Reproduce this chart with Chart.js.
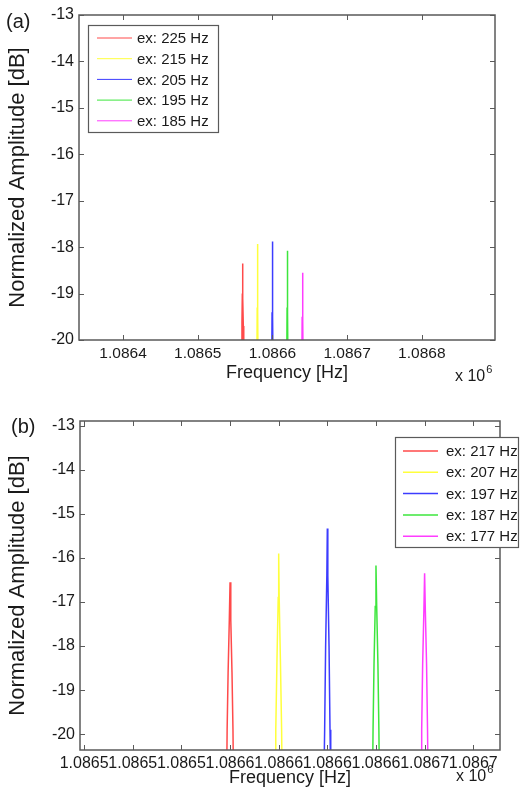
<!DOCTYPE html>
<html><head><meta charset="utf-8">
<script src="https://cdn.jsdelivr.net/npm/chart.js@4.4.0/dist/chart.umd.min.js"></script>
<style>
html,body{margin:0;padding:0;background:#fff;}
#wrap{position:relative;width:524px;height:795px;}
.c{position:absolute;left:0;width:524px;}
</style></head><body>
<div id="wrap">
<div class="c" style="top:0;height:395px"><canvas id="ca" width="524" height="395"></canvas></div>
<div class="c" style="top:395px;height:400px"><canvas id="cb" width="524" height="400"></canvas></div>
</div>
<script>
const FONT = '"Liberation Sans", Arial, Helvetica, sans-serif';
const COLORS = ['#ff4a4a', '#ffff3c', '#3c3cff', '#3ce63c', '#ff3cff'];

// ---------- Panel (a) ----------
const xTicksA = [1086400, 1086500, 1086600, 1086700, 1086800];
const xTickLabelsA = ['1.0864', '1.0865', '1.0866', '1.0867', '1.0868'];
const yTicks = [-20, -19, -18, -17, -16, -15, -14, -13];
const namesA = ['ex: 225 Hz', 'ex: 215 Hz', 'ex: 205 Hz', 'ex: 195 Hz', 'ex: 185 Hz'];

const freqA225 = [1086558.6, 1086559.2, 1086559.7, 1086560.0, 1086560.4, 1086561.0, 1086561.6];
const ampA225  = [-21.0, -19.6, -19.0, -18.35, -19.1, -19.7, -21.0];
const freqA215 = [1086579.0, 1086579.6, 1086580.0, 1086580.4, 1086581.0];
const ampA215  = [-21.0, -19.3, -17.93, -19.4, -21.0];
const freqA205 = [1086598.9, 1086599.5, 1086599.8, 1086600.0, 1086600.3, 1086600.6, 1086601.1];
const ampA205  = [-21.0, -19.4, -18.6, -17.88, -18.7, -19.5, -21.0];
const freqA195 = [1086619.0, 1086619.6, 1086620.0, 1086620.4, 1086621.0];
const ampA195  = [-21.0, -19.3, -18.08, -19.4, -21.0];
const freqA185 = [1086639.2, 1086639.8, 1086640.3, 1086640.8, 1086641.4];
const ampA185  = [-21.0, -19.5, -18.55, -19.6, -21.0];

// ---------- Panel (b) ----------
const xTicksB = [1086510, 1086530, 1086550, 1086570, 1086590, 1086610, 1086630, 1086650, 1086670];
const xTickLabelsB = ['1.0865', '1.0865', '1.0865', '1.0866', '1.0866', '1.0866', '1.0866', '1.0867', '1.0867'];
const namesB = ['ex: 217 Hz', 'ex: 207 Hz', 'ex: 197 Hz', 'ex: 187 Hz', 'ex: 177 Hz'];

const freqB217 = [1086568.6, 1086568.8, 1086569.2, 1086569.7, 1086570.0, 1086570.3, 1086570.8, 1086571.2, 1086571.4];
const ampB217  = [-21.0, -19.9, -18.6, -17.4, -16.55, -17.4, -18.6, -19.9, -21.0];
const freqB207 = [1086588.6, 1086588.8, 1086589.3, 1086589.8, 1086590.0, 1086590.2, 1086590.7, 1086591.2, 1086591.4];
const ampB207  = [-21.0, -19.9, -18.3, -16.9, -15.9, -16.9, -18.3, -19.9, -21.0];
const freqB197 = [1086608.6, 1086608.9, 1086609.3, 1086609.8, 1086610.0, 1086610.2, 1086610.7, 1086611.1, 1086611.4];
const ampB197  = [-21.0, -19.9, -18.0, -16.4, -15.33, -16.4, -18.0, -19.9, -21.0];
const freqB187 = [1086628.6, 1086628.8, 1086629.2, 1086629.7, 1086630.0, 1086630.3, 1086630.8, 1086631.2, 1086631.4];
const ampB187  = [-21.0, -19.9, -18.4, -17.1, -16.17, -17.1, -18.4, -19.9, -21.0];
const freqB177 = [1086648.6, 1086648.8, 1086649.2, 1086649.7, 1086650.0, 1086650.3, 1086650.8, 1086651.2, 1086651.4];
const ampB177  = [-21.0, -19.9, -18.4, -17.2, -16.35, -17.2, -18.4, -19.9, -21.0];

function makeDatasets(names, freqs, amps, lw) {
  return names.map((n, i) => ({
    label: n,
    data: freqs[i].map((f, j) => ({x: f, y: amps[i][j]})),
    borderColor: COLORS[i], backgroundColor: COLORS[i],
    borderWidth: lw, pointRadius: 0, showLine: true, tension: 0, clip: 0, fill: false
  }));
}

const framePlugin = {
  id: 'frame',
  afterDraw(chart, args, o) {
    const {ctx, chartArea: a, scales: {x, y}} = chart;
    ctx.save();
    const seg = (x1, y1, x2, y2) => { ctx.beginPath(); ctx.moveTo(x1, y1); ctx.lineTo(x2, y2); ctx.stroke(); };
    ctx.strokeStyle = '#5a5a5a';
    ctx.lineWidth = 1;
    const L = 5;
    x.ticks.forEach(t => { const p = Math.round(x.getPixelForValue(t.value)) + 0.5; seg(p, a.bottom, p, a.bottom - L); seg(p, a.top, p, a.top + L); });
    y.ticks.forEach(t => { const p = Math.round(y.getPixelForValue(t.value)) + 0.5; seg(a.left, p, a.left + L, p); seg(a.right, p, a.right - L, p); });
    ctx.lineWidth = 1.5;
    ctx.strokeRect(a.left, a.top, a.right - a.left, a.bottom - a.top);
    // panel label
    ctx.fillStyle = '#1a1a1a';
    ctx.textBaseline = 'middle'; ctx.textAlign = 'left';
    ctx.font = '20px ' + FONT;
    ctx.fillText(o.panel, o.panelX, o.panelY);
    // exponent
    ctx.font = '16px ' + FONT;
    ctx.fillText('x 10', o.expX, o.expY);
    const w = ctx.measureText('x 10').width;
    ctx.font = '11px ' + FONT;
    ctx.fillText('6', o.expX + w + 1, o.expY - 7);
    // legend
    const g = o.legend;
    ctx.fillStyle = '#fff';
    ctx.fillRect(g.x, g.y, g.w, g.h);
    ctx.strokeStyle = '#5a5a5a'; ctx.lineWidth = 1.2;
    ctx.strokeRect(g.x + 0.5, g.y + 0.5, g.w, g.h);
    chart.data.datasets.forEach((d, i) => {
      const ry = g.y + g.first + i * g.step;
      ctx.strokeStyle = d.borderColor; ctx.lineWidth = g.lw;
      seg(g.x + g.l1, ry, g.x + g.l2, ry);
      ctx.fillStyle = '#1a1a1a'; ctx.font = '15px ' + FONT;
      ctx.fillText(d.label, g.x + g.tx, ry + 1);
    });
    ctx.restore();
  }
};

function makeChart(id, c) {
  return new Chart(document.getElementById(id), {
    type: 'scatter',
    data: {datasets: c.datasets},
    options: {
      responsive: false, animation: false, devicePixelRatio: 1,
      layout: {padding: c.padding, autoPadding: false},
      plugins: {legend: {display: false}, tooltip: {enabled: false}, frame: c.frame},
      scales: {
        x: {
          type: 'linear', min: c.xMin, max: c.xMax,
          afterBuildTicks: s => { s.ticks = c.xTicks.map(v => ({value: v})); },
          afterFit: s => { s.height = c.xAxisHeight; },
          grid: {display: false, drawTicks: false}, border: {display: false},
          ticks: {autoSkip: false, maxRotation: 0, minRotation: 0, padding: c.xTickPad, color: '#1a1a1a',
                  font: {family: FONT, size: c.xTickSize}, callback: (v, i) => c.xLabels[i]},
          title: {display: true, text: 'Frequency [Hz]', color: '#1a1a1a',
                  font: {family: FONT, size: 18}, padding: {top: 0, bottom: c.xTitlePad}}
        },
        y: {
          type: 'linear', min: c.yMin, max: c.yMax,
          afterBuildTicks: s => { s.ticks = yTicks.map(v => ({value: v})); },
          afterFit: s => { s.width = c.yAxisWidth; },
          grid: {display: false, drawTicks: false}, border: {display: false},
          ticks: {padding: 5, color: '#1a1a1a', font: {family: FONT, size: 16}},
          title: {display: true, text: 'Normalized Amplitude [dB]', color: '#1a1a1a',
                  font: {family: FONT, size: 22}, padding: {top: 5, bottom: 0}}
        }
      }
    },
    plugins: [framePlugin]
  });
}

makeChart('ca', {
  datasets: makeDatasets(namesA, [freqA225, freqA215, freqA205, freqA195, freqA185],
                         [ampA225, ampA215, ampA205, ampA195, ampA185], 1.5),
  padding: {left: 0, top: 15, right: 29, bottom: 0},
  xMin: 1086341, xMax: 1086898, xTicks: xTicksA, xLabels: xTickLabelsA, xTickSize: 15.5,
  yMin: -20, yMax: -13, yAxisWidth: 79, xAxisHeight: 55, xTickPad: 4, xTitlePad: 11,
  frame: {panel: '(a)', panelX: 6, panelY: 22, expX: 455, expY: 377,
          legend: {x: 88, y: 25, w: 130, h: 107, first: 13, step: 20.7, l1: 9, l2: 44, tx: 49, lw: 1}}
});

makeChart('cb', {
  datasets: makeDatasets(namesB, [freqB217, freqB207, freqB197, freqB187, freqB177],
                         [ampB217, ampB207, ampB197, ampB187, ampB177], 1.5),
  padding: {left: 0, top: 26, right: 24, bottom: 0},
  xMin: 1086508.3, xMax: 1086681, xTicks: xTicksB, xLabels: xTickLabelsB, xTickSize: 16,
  yMin: -20.36, yMax: -12.89, yAxisWidth: 80, xAxisHeight: 45, xTickPad: 4, xTitlePad: 6,
  frame: {panel: '(b)', panelX: 11, panelY: 32, expX: 456, expY: 382,
          legend: {x: 395, y: 42, w: 123, h: 110, first: 14, step: 21.3, l1: 8, l2: 43, tx: 51, lw: 1.5}}
});
</script>
</body></html>
